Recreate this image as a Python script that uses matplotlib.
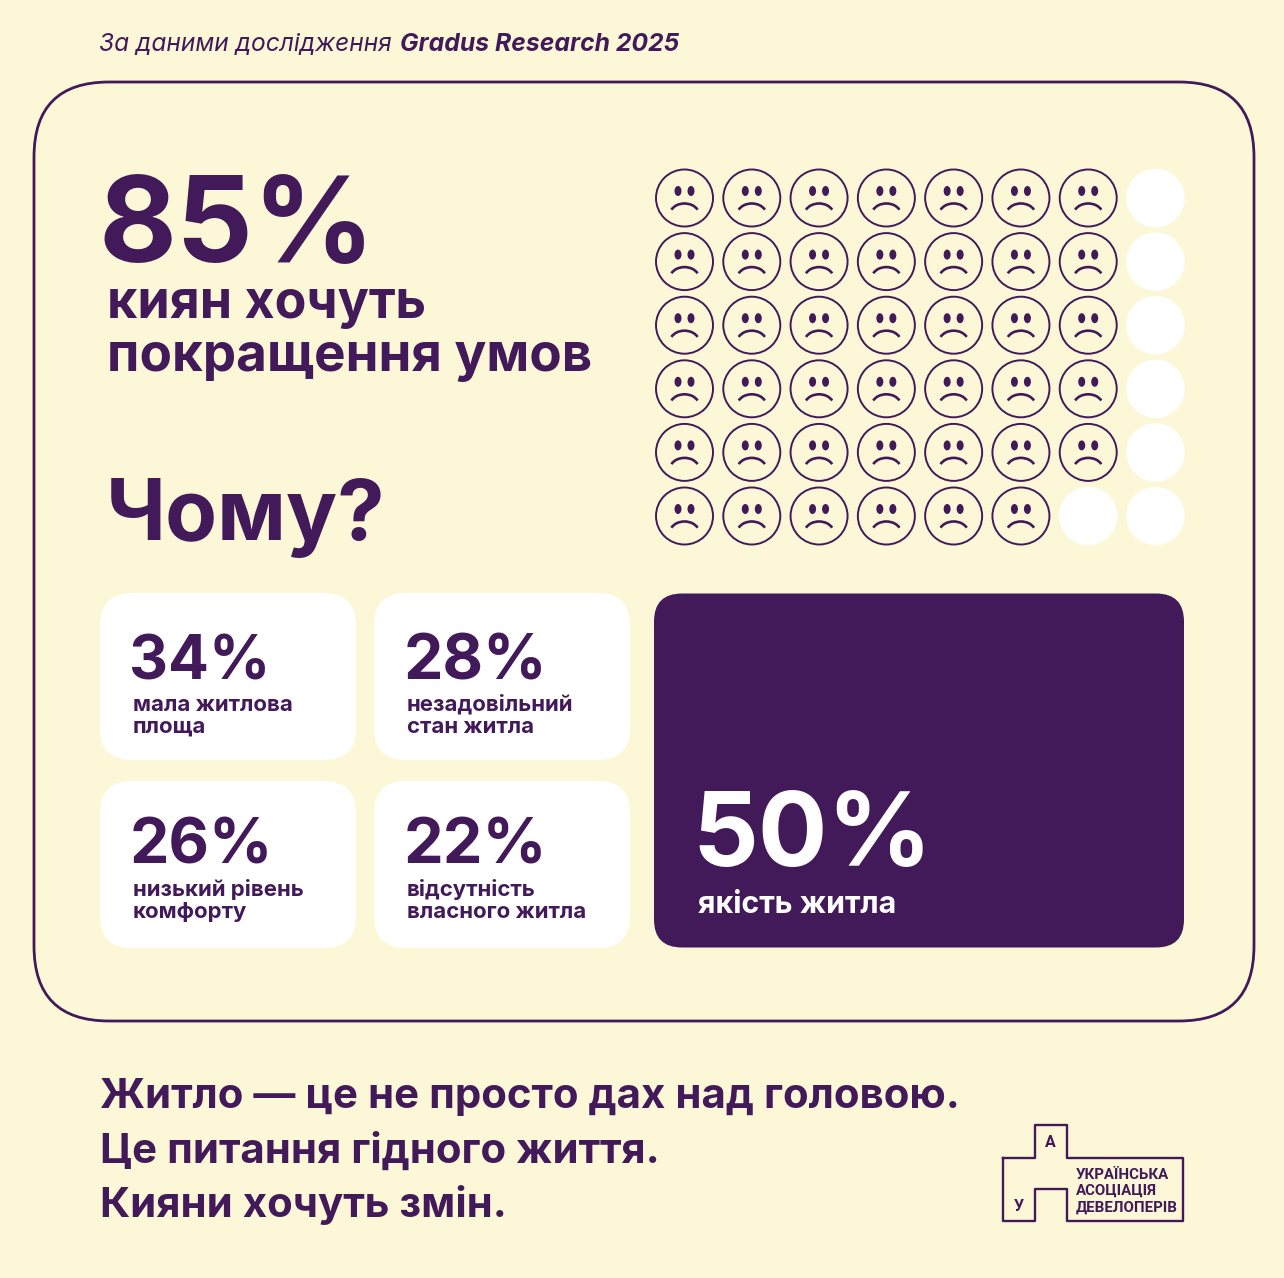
import numpy as np
import matplotlib
matplotlib.use('Agg')
import matplotlib.pyplot as plt
from matplotlib.patches import FancyBboxPatch, Circle, Ellipse, Arc

BG = '#FCF8D7'
PURPLE = '#421A5A'
plt.rcParams['font.family'] = ['Inter', 'DejaVu Sans']

W, H = 1284, 1278
fig = plt.figure(figsize=(W / 100, H / 100), dpi=100, facecolor=BG)
ax = fig.add_axes([0, 0, 1, 1])
ax.set_xlim(0, W)
ax.set_ylim(H, 0)
ax.axis('off')


def px(size):
    return size * 0.72


def rbox(x0, y0, x1, y1, r, **kw):
    ax.add_patch(FancyBboxPatch((x0 + r, y0 + r), x1 - x0 - 2 * r, y1 - y0 - 2 * r,
                                boxstyle=f'round,pad={r},rounding_size={r}', **kw))


def label(x, y, s, size, color=PURPLE, weight='bold', style='normal', **kw):
    ax.text(x, y, s, fontsize=px(size), color=color, fontweight=weight, fontstyle=style,
            va='baseline', ha='left', **kw)


# header
label(99, 51, 'За даними дослідження', 24.5, weight='normal', style='italic')
label(400, 51, 'Gradus Research 2025', 24.7, style='italic')

# outer frame
rbox(34, 82, 1254, 1021, 75, fc='none', ec=PURPLE, lw=2.0)

# headline
label(98, 262, '85%', 120)
label(107, 318, 'киян хочуть', 52)
label(107, 371, 'покращення умов', 53)
label(106, 540, 'Чому?', 85)

# face grid: 41 of 48 sad, the rest blank
row_counts = [7, 7, 7, 7, 7, 6]
n_cols = 8
col_x = np.linspace(684.5, 1155.5, n_cols)
row_y = np.linspace(198, 516, len(row_counts))
R = 28.5
for j, n_sad in enumerate(row_counts):
    for i in range(n_cols):
        cx, cy = col_x[i], row_y[j]
        if i < n_sad:
            ax.add_patch(Circle((cx, cy), R, fc='none', ec=PURPLE, lw=1.4))
            for dx in (-6.5, 6.5):
                ax.add_patch(Ellipse((cx + dx, cy - 7), 7, 10, fc=PURPLE, ec='none'))
            ax.add_patch(Arc((cx, cy + 16.5), 29, 22, theta1=200, theta2=340, ec=PURPLE, lw=1.9))
        else:
            ax.add_patch(Circle((cx, cy), R + 0.7, fc='white', ec='none'))

# reason cards: box top, text top, value, value size, caption
cards = [
    (100, 593, 593, '34%', 60.5, ['мала житлова', 'площа']),
    (374, 593, 593, '28%', 62.5, ['незадовільний', 'стан житла']),
    (100, 781, 778, '26%', 62.5, ['низький рівень', 'комфорту']),
    (374, 781, 778, '22%', 63, ['відсутність', 'власного житла']),
]
for x0, y0, ty, pct, size, lines in cards:
    rbox(x0, y0, x0 + 256, y0 + 167, 32, fc='white', ec='none')
    label(x0 + 29.5, ty + 86, pct, size)
    for k, line in enumerate(lines):
        label(x0 + 33, ty + 118 + k * 22, line, 22.2)

rbox(654, 593.5, 1184, 947.5, 28, fc=PURPLE, ec='none')
label(692, 866, '50%', 103, color='white')
label(698, 913, 'якість житла', 30.4, color='white')

# closing text
for y, line in zip((1108, 1163, 1217), ('Житло — це не просто дах над головою.',
                                         'Це питання гідного життя.',
                                         'Кияни хочуть змін.')):
    label(100, y, line, 42)

# logo outline
lx = [1003, 1035, 1035, 1067, 1067, 1183, 1183, 1067, 1067, 1035, 1035, 1003, 1003]
ly = [1158, 1158, 1125, 1125, 1158, 1158, 1221, 1221, 1189, 1189, 1221, 1221, 1158]
ax.plot(lx, ly, color=PURPLE, lw=1.7, solid_joinstyle='round')
logo_font = ['Roboto', 'DejaVu Sans']
ax.text(1050, 1147, 'А', fontsize=px(16), color=PURPLE, fontweight='bold', ha='center', family=logo_font)
ax.text(1019, 1211, 'У', fontsize=px(16), color=PURPLE, fontweight='bold', ha='center', family=logo_font)
for y, line in zip((1179, 1195, 1212), ('УКРАЇНСЬКА', 'АСОЦІАЦІЯ', 'ДЕВЕЛОПЕРІВ')):
    ax.text(1076, y, line, fontsize=px(15), color=PURPLE, fontweight='bold', family=logo_font)

fig.savefig('out.png', dpi=100, facecolor=BG)
